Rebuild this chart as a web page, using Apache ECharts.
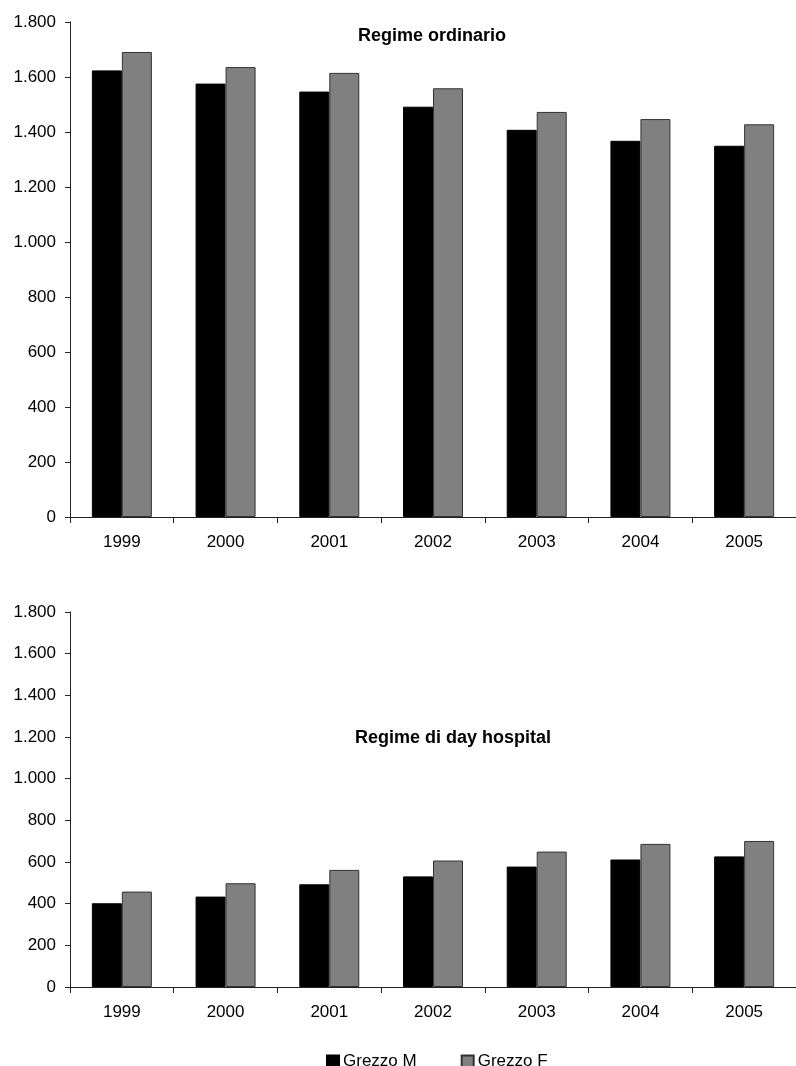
<!DOCTYPE html>
<html>
<head>
<meta charset="utf-8">
<script src="https://cdn.jsdelivr.net/npm/echarts@6/dist/echarts.min.js"></script>
<style>
html,body{margin:0;padding:0;background:#fff;}
#c{width:796px;height:1066px;}
</style>
</head>
<body>
<div id="c"></div>
<script>
const years = ['1999','2000','2001','2002','2003','2004','2005'];
const ordinarioM = [1624, 1576, 1547, 1492, 1408, 1368, 1350];
const ordinarioF = [1691, 1636, 1615, 1559, 1473, 1447, 1428];
const dayHospitalM = [402, 434, 493, 531, 578, 612, 627];
const dayHospitalF = [458, 498, 562, 607, 650, 687, 701];
const titles = ['Regime ordinario', 'Regime di day hospital'];
const seriesNames = ['Grezzo M', 'Grezzo F'];

const font = '"Liberation Sans", Arial, sans-serif';
const axisColor = '#222';
const fmt = v => v >= 1000 ? String(v).replace(/(\d)(\d{3})$/, '$1.$2') : String(v);

function xAxis(gi) {
  return {
    type: 'category', gridIndex: gi, data: years,
    axisLine: {lineStyle: {color: axisColor, width: 1}},
    axisTick: {show: true, length: 6, lineStyle: {color: axisColor}},
    axisLabel: {color: '#000', fontFamily: font, fontSize: 17, margin: 17}
  };
}
function yAxis(gi) {
  return {
    type: 'value', gridIndex: gi, min: 0, max: 1800, interval: 200,
    axisLine: {show: true, lineStyle: {color: axisColor, width: 1}},
    axisTick: {show: true, length: 5, lineStyle: {color: axisColor}},
    splitLine: {show: false},
    axisLabel: {color: '#000', fontFamily: font, fontSize: 17, margin: 14, formatter: fmt}
  };
}
const mStyle = {color: '#000', borderColor: '#000', borderWidth: 1};
const fStyle = {color: '#808080', borderColor: '#333', borderWidth: 1};

const chart = echarts.init(document.getElementById('c'), null, {renderer: 'canvas'});
chart.setOption({
  animation: false,
  backgroundColor: '#fff',
  title: [
    {text: titles[0], left: 353, top: 22, textStyle: {fontFamily: font, fontSize: 18, fontWeight: 'bold', color: '#000'}},
    {text: titles[1], left: 350, top: 724, textStyle: {fontFamily: font, fontSize: 18, fontWeight: 'bold', color: '#000'}}
  ],
  legend: {
    data: seriesNames, left: 321, top: 1048,
    itemWidth: 12, itemHeight: 12, itemGap: 44, icon: 'rect',
    textStyle: {fontFamily: font, fontSize: 17, color: '#000', padding: [0,0,0,-1]}
  },
  grid: [
    {left: 70, top: 22, width: 732, height: 495},
    {left: 70, top: 612, width: 732, height: 375}
  ],
  xAxis: [xAxis(0), xAxis(1)],
  yAxis: [yAxis(0), yAxis(1)],
  series: [
    {name: seriesNames[0], type: 'bar', xAxisIndex: 0, yAxisIndex: 0, data: ordinarioM, barWidth: 30, barGap: '0%', itemStyle: mStyle},
    {name: seriesNames[1], type: 'bar', xAxisIndex: 0, yAxisIndex: 0, data: ordinarioF, barWidth: 30, barGap: '0%', itemStyle: fStyle},
    {name: seriesNames[0], type: 'bar', xAxisIndex: 1, yAxisIndex: 1, data: dayHospitalM, barWidth: 30, barGap: '0%', itemStyle: mStyle},
    {name: seriesNames[1], type: 'bar', xAxisIndex: 1, yAxisIndex: 1, data: dayHospitalF, barWidth: 30, barGap: '0%', itemStyle: fStyle}
  ]
});
</script>
</body>
</html>
